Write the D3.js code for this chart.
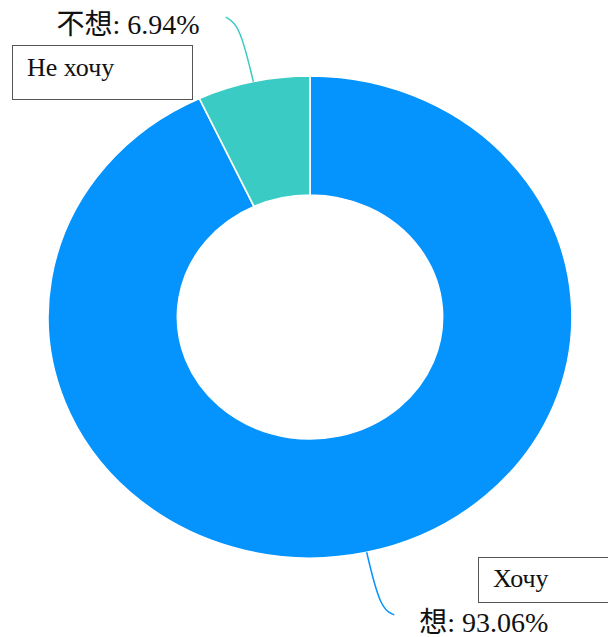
<!DOCTYPE html>
<html>
<head>
<meta charset="utf-8">
<script src="https://cdn.jsdelivr.net/npm/d3@7"></script>
<style>
  html, body { margin: 0; padding: 0; background: #fff; }
  text { font-family: "Liberation Serif", "Noto Sans CJK SC", serif; fill: #111; }
</style>
</head>
<body>
<div id="chart"></div>
<script>
// data
const categories = ['想', '不想'];
const values = [93.06, 6.94];
const notes = ['Хочу', 'Не хочу'];
const colors = ['#0593fe', '#3bcbc5'];

const width = 608;
const height = 637;

const cx = 310;
const cy = 317;
const outerR = 241;
const innerR = 122;
const stretch = 1.087; // picture is slightly wider than tall

const svg = d3.select('#chart')
  .append('svg')
    .attr('width', width)
    .attr('height', height);

let pie = d3.pie()
    .sort(null)
    .value(function(d) { return d; });

let arc = d3.arc()
    .innerRadius(innerR)
    .outerRadius(outerR);

let arcs = pie(values);

svg.append('g')
    .attr('transform', 'translate(' + cx + ',' + cy + ') scale(' + stretch + ',1)')
  .selectAll('path')
    .data(arcs)
  .enter()
  .append('path')
    .attr('d', arc)
    .style('fill', function(d, i) { return colors[i]; })
    .style('stroke', '#fff')
    .style('stroke-width', 1.5);

/**
* point on the stretched ellipse at angle a and radius r.
*/
function polar(a, r) {
  return [cx + Math.sin(a) * r * stretch, cy - Math.cos(a) * r];
}

let line = d3.line().curve(d3.curveBasis);

arcs.forEach(function(d, i) {
  let mid = (d.startAngle + d.endAngle) / 2;
  let right = Math.sin(mid) > 0;
  let p0 = polar(mid, outerR);
  let p1 = polar(mid, outerR + 58);
  let p2 = [p1[0] + (right ? 14 : -14), p1[1] + (Math.cos(mid) > 0 ? -8 : 6)];

  svg.append('path')
      .attr('d', line([p0, p1, p2]))
      .style('fill', 'none')
      .style('stroke', colors[i])
      .style('stroke-width', 1.5);

  svg.append('text')
      .attr('x', right ? p2[0] + 25 : p2[0] - 26)
      .attr('y', p2[1] + 17)
      .attr('text-anchor', right ? 'start' : 'end')
      .attr('font-size', 28)
      .text(categories[i] + ': ' + values[i].toFixed(2) + '%');
});

// translation boxes
let boxes = [
  {x: 478, y: 557, w: 140, h: 45},
  {x: 12, y: 45, w: 180, h: 54},
];

boxes.forEach(function(b, i) {
  svg.append('rect')
      .attr('x', b.x + 0.5)
      .attr('y', b.y + 0.5)
      .attr('width', b.w)
      .attr('height', b.h)
      .style('fill', '#fff')
      .style('stroke', '#555')
      .style('stroke-width', 1);

  svg.append('text')
      .attr('x', b.x + 15)
      .attr('y', b.y + (i == 0 ? 30 : 31))
      .attr('font-size', 26)
      .text(notes[i]);
});
</script>
</body>
</html>
